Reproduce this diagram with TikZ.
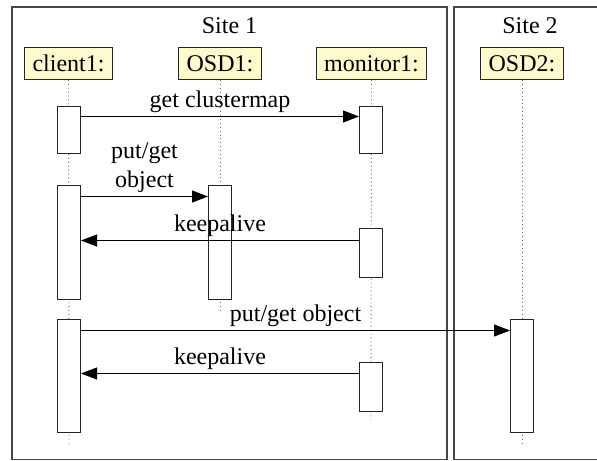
\documentclass[tikz,border=0pt]{standalone}
\usepackage{fontspec}
\setmainfont{Liberation Serif}
\usetikzlibrary{arrows.meta,backgrounds}
\definecolor{hdrfill}{RGB}{255,250,205}
\definecolor{framecol}{RGB}{70,70,70}
\begin{document}
\begin{tikzpicture}[x=1bp,y=-1bp,
  txt/.style={font=\fontsize{24bp}{29bp}\selectfont},
  hdr/.style={txt,draw=black!85,fill=hdrfill,line width=1bp,minimum height=32bp,inner xsep=8bp,inner ysep=0pt},
  act/.style={draw=black!85,fill=white,line width=1bp,minimum width=23bp,inner sep=0pt},
  sitebox/.style={draw=framecol,line width=1.2bp},
  life/.style={draw=black!60,line width=0.9bp,dash pattern=on 0.9bp off 3bp},
  msg/.style={draw=black,line width=1bp,-{Triangle[length=16bp,width=12bp]}},
  lbl/.style={txt,anchor=south,inner xsep=0pt,inner ysep=3.8bp,align=center}]
\useasboundingbox (0,0) rectangle (597,461);
\clip (0,0) rectangle (597,461);

% titles
\node[txt,anchor=base] (site1t) at (229.5,34) {Site 1};
\node[txt,anchor=base] (site2t) at (530,34) {Site 2};

% headers
\node[hdr] (client1) at (68.5,63.5) {client1:};
\node[hdr] (osd1) at (220,63.5) {OSD1:};
\node[hdr] (monitor1) at (371.5,63.5) {monitor1:};
\node[hdr] (osd2) at (522,63.5) {OSD2:};

% activations
\node[act,minimum height=47bp] (c1a) at (69,130.5) {};
\node[act,minimum height=47bp] (m1a) at (371,130.5) {};
\node[act,minimum height=113bp] (c1b) at (69,242.5) {};
\node[act,minimum height=113bp] (o1a) at (220,242.5) {};
\node[act,minimum height=48bp] (m1b) at (371,253) {};
\node[act,minimum height=113bp] (c1c) at (69,375.5) {};
\node[act,minimum height=113bp] (o2a) at (522,375.5) {};
\node[act,minimum height=49bp] (m1c) at (371,386.5) {};

\begin{scope}[on background layer]
  \draw[sitebox] (12,7) rectangle (447,459.5);
  \draw[sitebox] (454,7) rectangle (606,459.5);
  \draw[life] (client1.south) -- ([yshift=-13bp]c1c.south);
  \draw[life] (osd1.south) -- ([yshift=-13bp]o1a.south);
  \draw[life] (monitor1.south) -- ([yshift=-9bp]m1c.south);
  \draw[life] (osd2.south) -- ([yshift=-13bp]o2a.south);
\end{scope}

% messages
\draw[msg] ([yshift=-10bp]c1a.north east) -- node[lbl]{get clustermap} ([yshift=-10bp]m1a.north west);
\draw[msg] ([yshift=-11bp]c1b.north east) -- node[lbl]{put/get\\object} ([yshift=-11bp]o1a.north west);
\coordinate (k1) at ([yshift=-12bp]m1b.north west);
\draw[msg] (k1) -- node[lbl]{keepalive} (c1b.east |- k1);
\coordinate (p2) at ([yshift=-12bp]c1c.north east);
\draw[msg] (p2) -- node[lbl]{put/get object} (o2a.west |- p2);
\coordinate (k2) at ([yshift=-12bp]m1c.north west);
\draw[msg] (k2) -- node[lbl]{keepalive} (c1c.east |- k2);
\end{tikzpicture}
\end{document}
